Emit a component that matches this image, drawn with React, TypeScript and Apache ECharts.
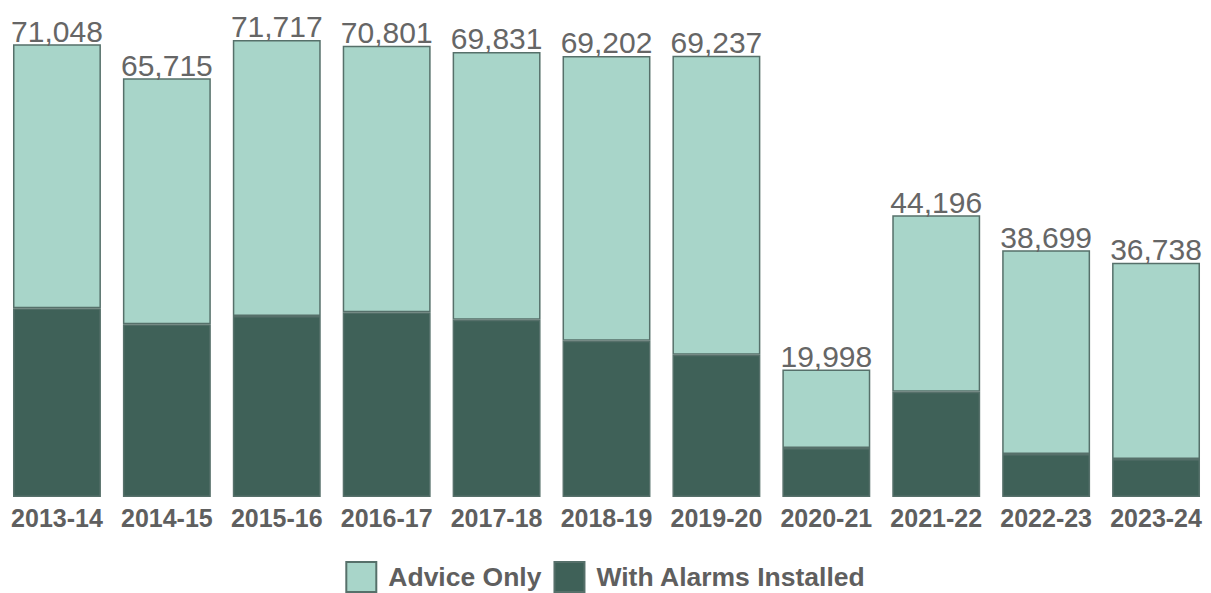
import React, { useEffect, useRef } from "react";
import * as echarts from "echarts";

// Financial years shown on the x axis
const years = [
  "2013-14", "2014-15", "2015-16", "2016-17", "2017-18", "2018-19",
  "2019-20", "2020-21", "2021-22", "2022-23", "2023-24",
];

// Total visits per year (labelled above each bar)
const totals = [71048, 65715, 71717, 70801, 69831, 69202, 69237, 19998, 44196, 38699, 36738];

// Visits where alarms were installed (bottom segment)
const withAlarms = [29600, 27100, 28400, 29000, 27800, 24500, 22300, 7700, 16500, 6750, 5960];

// Advice-only visits make up the rest of each total (top segment)
const adviceOnly = totals.map((t, i) => t - withAlarms[i]);

const LIGHT = "#a8d5c9";
const DARK = "#3f6158";
const EDGE = "#56706a";
const TEXT = "#5f5f5f";
const FONT = "'Liberation Sans', Arial, sans-serif";

export default function App() {
  const ref = useRef<HTMLDivElement>(null);

  useEffect(() => {
    if (!ref.current) return;
    const chart = echarts.init(ref.current, undefined, { renderer: "svg" });
    chart.setOption({
      animation: false,
      textStyle: { fontFamily: FONT },
      grid: { left: 2, right: 0, top: 19, bottom: 96, containLabel: false },
      legend: {
        data: ["Advice Only", "With Alarms Installed"],
        bottom: -5,
        left: "center",
        itemWidth: 30,
        itemHeight: 30,
        itemGap: 12,
        icon: "rect",
        textStyle: {
          fontSize: 26.5,
          fontWeight: "bold",
          color: TEXT,
          fontFamily: FONT,
          padding: [0, 0, 0, 7],
        },
      },
      xAxis: {
        type: "category",
        data: years,
        axisLine: { show: false },
        axisTick: { show: false },
        axisLabel: {
          fontSize: 25,
          fontWeight: "bold",
          color: TEXT,
          fontFamily: FONT,
          margin: 8,
          interval: 0,
        },
      },
      yAxis: {
        type: "value",
        min: 0,
        max: 75000,
        show: false,
        splitLine: { show: false },
      },
      series: [
        {
          name: "With Alarms Installed",
          type: "bar",
          stack: "visits",
          data: withAlarms,
          barCategoryGap: "20%",
          itemStyle: { color: DARK, borderColor: EDGE, borderWidth: 1.5 },
        },
        {
          name: "Advice Only",
          type: "bar",
          stack: "visits",
          data: adviceOnly,
          barCategoryGap: "20%",
          itemStyle: { color: LIGHT, borderColor: EDGE, borderWidth: 1.5 },
          label: {
            show: true,
            position: "top",
            distance: -2,
            fontSize: 30,
            color: "#666666",
            fontFamily: FONT,
            formatter: (p: any) => totals[p.dataIndex].toLocaleString("en-US"),
          },
        },
      ],
    });
    return () => chart.dispose();
  }, []);

  return (
    <div
      ref={ref}
      style={{ position: "fixed", left: 0, top: 0, width: 1211, height: 593, background: "#ffffff" }}
    />
  );
}
